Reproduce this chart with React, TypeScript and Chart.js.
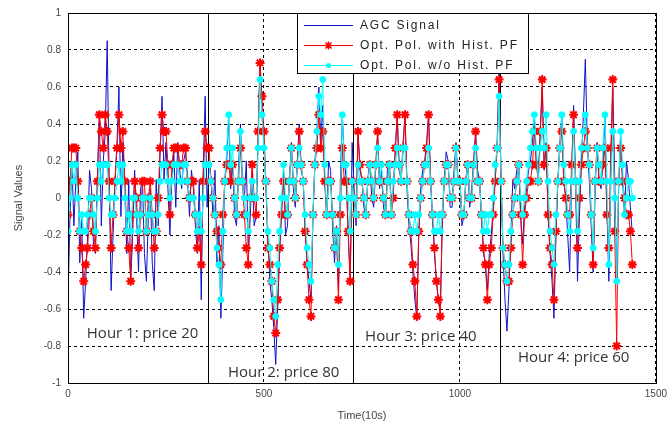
import React, { useEffect, useRef } from 'react';
import { Chart, registerables } from 'chart.js';
Chart.register(...registerables);

// sample times (units of 10 s), one point every 5 samples
const TIME: number[] = Array.from({ length: 289 }, (_, i) => i * 5);

const AGC: number[] = [
  -0.55, -0.1, 0.2, -0.15, 0.1, 0.25, -0.35, -0.1, -0.65, -0.45,
  -0.2, 0.15, 0.05, -0.25, -0.3, 0.1, 0.45, -0.15, 0.2, 0.35,
  0.85, 0.1, -0.5, -0.2, 0.1, 0.3, 0.6, -0.1, 0.3, 0.05,
  -0.3, 0.1, -0.45, -0.2, 0.15, -0.1, -0.4, 0.05, 0.1, -0.3,
  -0.45, -0.1, 0.05, -0.35, -0.5, 0.1, -0.15, 0.25, 0.55, 0.1,
  0.3, 0.05, -0.2, 0.1, 0.25, -0.05, 0.3, 0.15, 0.05, 0.2,
  0.25, 0.1, -0.1, 0.15, 0.05, -0.15, -0.3, 0.1, -0.55, 0.15,
  0.55, -0.05, 0.2, 0.1, -0.1, 0.15, -0.35, -0.15, -0.65, -0.3,
  0.1, 0.2, 0.45, 0.05, 0.2, -0.1, -0.15, 0.15, 0.4, 0.1,
  0.0, 0.2, -0.3, -0.1, 0.15, -0.15, -0.1, 0.3, 0.75, 0.45,
  0.3, 0.05, -0.2, -0.45, -0.55, -0.7, -0.9, -0.6, -0.3, -0.05,
  0.15, -0.2, -0.15, 0.1, 0.3, 0.05, -0.05, 0.2, 0.4, 0.15,
  0.1, -0.15, -0.35, -0.45, -0.55, -0.1, 0.2, 0.35, 0.6, 0.3,
  0.5, 0.1, -0.1, 0.2, 0.15, -0.15, -0.35, -0.15, -0.5, 0.1,
  0.45, 0.2, 0.1, -0.2, -0.45, 0.3, 0.05, -0.15, 0.35, 0.15,
  0.1, -0.05, -0.1, 0.1, 0.2, 0.0, -0.05, 0.15, 0.35, 0.05,
  0.15, -0.05, -0.1, 0.15, 0.2, -0.05, 0.05, 0.25, 0.45, 0.15,
  0.1, 0.3, 0.45, 0.05, -0.15, -0.25, -0.4, -0.55, -0.65, -0.2,
  0.05, 0.15, 0.2, 0.3, 0.45, 0.1, -0.1, -0.3, -0.45, -0.55,
  -0.6, -0.15, 0.1, 0.25, 0.2, -0.05, -0.05, 0.15, 0.3, 0.1,
  0.1, -0.15, -0.1, 0.1, 0.2, -0.05, 0.05, 0.2, 0.35, 0.15,
  0.1, -0.1, -0.3, -0.35, -0.5, -0.3, -0.2, -0.05, 0.1, 0.3,
  0.7, 0.1, -0.3, -0.55, -0.72, -0.5, -0.2, 0.1, 0.05, 0.15,
  0.2, -0.1, -0.25, -0.05, 0.05, 0.15, 0.2, 0.3, 0.45, 0.2,
  0.1, 0.35, 0.6, 0.15, 0.3, -0.1, -0.3, -0.45, -0.65, -0.2,
  0.1, 0.3, 0.45, 0.1, 0.0, -0.2, -0.4, 0.1, 0.5, 0.1,
  -0.45, -0.1, 0.2, 0.45, 0.75, 0.3, 0.1, -0.15, -0.4, 0.05,
  0.3, 0.1, 0.05, 0.2, 0.45, -0.05, -0.45, 0.1, 0.6, 0.1,
  -0.45, 0.05, 0.35, 0.1, -0.1, 0.2, 0.1, -0.05, -0.2,
];

const WITH_HIST: number[] = [
  -0.09, 0.09, 0.27, 0.27, 0.27, 0.09, -0.18, -0.27, -0.45, -0.36,
  -0.27, -0.09, 0.0, -0.18, -0.27, 0.09, 0.45, 0.36, 0.27, 0.45,
  0.36, 0.09, -0.27, -0.09, 0.09, 0.27, 0.45, 0.27, 0.36, 0.09,
  -0.18, -0.27, -0.45, -0.09, 0.09, 0.0, -0.27, -0.09, 0.09, 0.09,
  -0.18, 0.0, 0.09, -0.09, -0.27, -0.18, 0.0, 0.27, 0.45, 0.36,
  0.36, 0.18, -0.09, 0.18, 0.27, 0.27, 0.27, 0.18, 0.18, 0.27,
  0.27, 0.09, 0.0, 0.09, 0.09, -0.09, -0.27, -0.18, -0.36, 0.09,
  0.36, 0.27, 0.27, 0.09, 0.0, -0.09, -0.18, -0.27, -0.36, -0.09,
  0.09, 0.18, 0.18, 0.09, 0.18, 0.0, -0.09, 0.09, 0.27, 0.09,
  -0.09, -0.27, -0.36, 0.0, 0.18, 0.0, -0.09, 0.36, 0.73, 0.55,
  0.36, 0.09, -0.27, -0.36, -0.45, -0.64, -0.73, -0.55, -0.27, -0.09,
  0.09, -0.09, -0.09, 0.09, 0.27, 0.09, 0.0, 0.18, 0.36, 0.18,
  0.09, -0.18, -0.36, -0.55, -0.64, -0.09, 0.18, 0.27, 0.45, 0.27,
  0.36, 0.09, -0.09, 0.09, 0.09, -0.09, -0.27, -0.18, -0.55, -0.09,
  0.27, 0.09, 0.09, -0.18, -0.45, 0.09, 0.0, -0.09, 0.36, 0.18,
  0.09, 0.0, -0.09, 0.09, 0.18, 0.09, 0.0, 0.18, 0.36, 0.09,
  0.09, 0.0, -0.09, 0.09, 0.18, -0.09, 0.0, 0.27, 0.45, 0.18,
  0.09, 0.27, 0.45, 0.09, -0.09, -0.18, -0.36, -0.45, -0.64, -0.18,
  0.0, 0.09, 0.18, 0.27, 0.45, 0.09, -0.09, -0.27, -0.45, -0.55,
  -0.64, -0.09, 0.09, 0.18, 0.18, 0.0, 0.0, 0.09, 0.27, 0.09,
  0.09, -0.09, -0.09, 0.09, 0.18, 0.0, 0.0, 0.18, 0.36, 0.09,
  0.09, -0.09, -0.27, -0.36, -0.55, -0.36, -0.27, -0.09, 0.09, 0.27,
  0.64, 0.09, -0.27, -0.36, -0.45, -0.45, -0.27, -0.09, 0.0, 0.09,
  0.18, -0.09, -0.36, -0.09, 0.0, 0.09, 0.09, 0.18, 0.36, 0.18,
  0.09, 0.36, 0.64, 0.18, 0.27, -0.09, -0.27, -0.36, -0.55, -0.18,
  0.09, 0.27, 0.36, 0.09, 0.0, -0.09, -0.09, 0.18, 0.45, 0.09,
  -0.27, 0.0, 0.18, 0.27, 0.36, 0.27, 0.18, -0.09, -0.36, 0.09,
  0.27, 0.09, 0.09, 0.18, 0.27, -0.09, -0.27, 0.27, 0.64, -0.18,
  -0.8, 0.09, 0.27, 0.09, 0.0, -0.09, -0.09, -0.18, -0.36,
];

const WITHOUT_HIST: number[] = [
  -0.18, 0.0, 0.18, 0.09, 0.18, 0.0, -0.18, -0.09, -0.18, -0.18,
  -0.09, 0.0, 0.0, -0.09, -0.18, 0.0, 0.18, 0.09, 0.18, 0.18,
  0.18, 0.0, -0.09, -0.09, 0.0, 0.09, 0.18, 0.09, 0.18, 0.0,
  -0.18, -0.09, -0.18, 0.0, 0.0, -0.09, -0.18, -0.09, 0.0, 0.0,
  -0.18, -0.09, 0.0, -0.09, -0.18, -0.18, -0.09, 0.09, 0.18, 0.18,
  0.18, 0.09, 0.0, 0.09, 0.18, 0.18, 0.18, 0.09, 0.09, 0.18,
  0.18, 0.09, 0.0, 0.0, 0.0, -0.09, -0.18, -0.09, -0.18, 0.0,
  0.18, 0.18, 0.18, 0.09, 0.0, -0.09, -0.27, -0.36, -0.55, -0.18,
  0.09, 0.27, 0.45, 0.18, 0.27, 0.0, -0.09, 0.09, 0.36, 0.09,
  0.0, -0.09, -0.18, 0.0, 0.09, 0.0, 0.0, 0.27, 0.64, 0.45,
  0.27, 0.09, -0.18, -0.27, -0.45, -0.55, -0.64, -0.36, -0.18, 0.0,
  0.18, 0.0, -0.09, 0.09, 0.27, 0.09, 0.0, 0.18, 0.27, 0.18,
  0.09, -0.09, -0.27, -0.36, -0.45, -0.09, 0.18, 0.36, 0.55, 0.45,
  0.64, 0.18, -0.09, 0.09, 0.09, -0.09, -0.27, -0.18, -0.36, 0.0,
  0.45, 0.18, 0.18, 0.0, -0.18, 0.09, 0.0, -0.09, 0.18, 0.09,
  0.09, 0.0, -0.09, 0.09, 0.18, 0.09, 0.0, 0.18, 0.27, 0.09,
  0.18, 0.0, -0.09, 0.09, 0.18, -0.09, 0.09, 0.18, 0.27, 0.18,
  0.09, 0.27, 0.27, 0.09, -0.09, -0.18, -0.18, -0.09, -0.18, -0.09,
  0.0, 0.09, 0.18, 0.18, 0.27, 0.09, -0.09, -0.18, -0.18, -0.09,
  -0.18, -0.09, 0.09, 0.18, 0.18, 0.0, 0.0, 0.09, 0.27, 0.09,
  0.09, -0.09, -0.09, 0.09, 0.18, 0.0, 0.0, 0.18, 0.27, 0.09,
  0.09, -0.09, -0.18, -0.09, -0.18, -0.09, -0.09, 0.0, 0.18, 0.27,
  0.55, 0.09, -0.27, -0.36, -0.45, -0.36, -0.18, -0.09, 0.0, 0.09,
  0.18, 0.0, -0.09, 0.0, 0.09, 0.18, 0.27, 0.36, 0.45, 0.27,
  0.09, 0.27, 0.36, 0.27, 0.45, 0.09, -0.18, -0.27, -0.36, -0.09,
  0.09, 0.27, 0.45, 0.18, 0.09, -0.09, -0.18, 0.09, 0.36, 0.09,
  -0.18, 0.09, 0.27, 0.36, 0.45, 0.27, 0.18, -0.09, -0.27, 0.09,
  0.27, 0.18, 0.09, 0.27, 0.45, 0.09, -0.36, 0.09, 0.36, 0.0,
  -0.45, 0.09, 0.36, 0.18, -0.09, 0.0, 0.09, 0.09, 0.0,
];

const X_TICKS: number[] = [0, 500, 1000, 1500];
const HOUR_BOUNDS: number[] = [357, 728, 1102];
const HOUR_LABELS = [
  { text: 'Hour 1: price 20', x: 48, y: -0.736 },
  { text: 'Hour 2: price 80', x: 408, y: -0.943 },
  { text: 'Hour 3: price 40', x: 758, y: -0.752 },
  { text: 'Hour 4: price 60', x: 1148, y: -0.864 },
];
const SERIES_NAMES = ['AGC Signal', 'Opt. Pol. with Hist. PF', 'Opt. Pol. w/o Hist. PF'];
const BLUE = '#1010c8';
const RED = '#ff0000';
const CYAN = '#00ffff';

const overlay = {
  id: 'overlay',
  beforeDatasetsDraw(chart: any) {
    const { ctx, chartArea, scales } = chart;
    ctx.save();
    ctx.strokeStyle = '#000';
    ctx.lineWidth = 1;
    for (const v of HOUR_BOUNDS) {
      const px = Math.round(scales.x.getPixelForValue(v)) + 0.5;
      ctx.beginPath();
      ctx.moveTo(px, chartArea.top);
      ctx.lineTo(px, chartArea.bottom);
      ctx.stroke();
    }
    ctx.restore();
  },
  afterDraw(chart: any) {
    const { ctx, chartArea, scales } = chart;
    ctx.save();
    // annotations
    ctx.fillStyle = '#333';
    ctx.font = '15px "Open Sans", sans-serif';
    ctx.textBaseline = 'middle';
    ctx.textAlign = 'left';
    for (const h of HOUR_LABELS) {
      ctx.fillText(h.text, scales.x.getPixelForValue(h.x), scales.y.getPixelForValue(h.y));
    }
    // box
    ctx.strokeStyle = '#000';
    ctx.lineWidth = 1;
    ctx.strokeRect(
      Math.round(chartArea.left) + 0.5,
      Math.round(chartArea.top) + 0.5,
      Math.round(chartArea.right - chartArea.left),
      Math.round(chartArea.bottom - chartArea.top)
    );
    // legend
    const lx = 297, ly = Math.round(chartArea.top), lw = 231, lh = 60;
    ctx.fillStyle = '#fff';
    ctx.fillRect(lx, ly, lw, lh);
    ctx.strokeRect(lx + 0.5, ly + 0.5, lw, lh);
    const rows = [ly + 12, ly + 32, ly + 52];
    const colors = [BLUE, RED, CYAN];
    ctx.font = '12px Arial, "Liberation Sans", sans-serif';
    (ctx as any).letterSpacing = '1.8px';
    for (let i = 0; i < 3; i++) {
      const y = rows[i] + 0.5;
      ctx.strokeStyle = colors[i];
      ctx.lineWidth = 1;
      ctx.beginPath();
      ctx.moveTo(304, y);
      ctx.lineTo(353, y);
      ctx.stroke();
      if (i === 1) {
        ctx.lineWidth = 1.5;
        ctx.beginPath();
        ctx.moveTo(328.5, y - 4); ctx.lineTo(328.5, y + 4);
        ctx.moveTo(324.5, y); ctx.lineTo(332.5, y);
        ctx.moveTo(325.5, y - 3); ctx.lineTo(331.5, y + 3);
        ctx.moveTo(331.5, y - 3); ctx.lineTo(325.5, y + 3);
        ctx.stroke();
      }
      if (i === 2) {
        ctx.fillStyle = CYAN;
        ctx.beginPath();
        ctx.arc(328.5, y, 2.5, 0, Math.PI * 2);
        ctx.fill();
      }
      ctx.fillStyle = '#222';
      ctx.textBaseline = 'middle';
      ctx.fillText(SERIES_NAMES[i], 360, y);
    }
    ctx.restore();
  },
};

export default function App() {
  const ref = useRef<HTMLCanvasElement | null>(null);
  useEffect(() => {
    if (!ref.current) return;
    const mk = (vals: number[]) => TIME.map((t, i) => ({ x: t, y: vals[i] }));
    const chart = new Chart(ref.current, {
      type: 'line',
      data: {
        datasets: [
          {
            label: SERIES_NAMES[0],
            data: mk(AGC),
            borderColor: BLUE,
            borderWidth: 1,
            pointRadius: 0,
            order: 2,
          },
          {
            label: SERIES_NAMES[1],
            data: mk(WITH_HIST),
            borderColor: RED,
            borderWidth: 1,
            pointStyle: 'star',
            pointRadius: 4.5,
            pointBorderColor: RED,
            pointBorderWidth: 2,
            order: 1,
          },
          {
            label: SERIES_NAMES[2],
            data: mk(WITHOUT_HIST),
            borderColor: CYAN,
            borderWidth: 1,
            pointStyle: 'circle',
            pointRadius: 3,
            pointBackgroundColor: CYAN,
            pointBorderColor: CYAN,
            order: 0,
          },
        ],
      },
      options: {
        animation: false,
        responsive: false,
        layout: { padding: { top: 7, right: 16, left: 0, bottom: 0 } },
        plugins: { legend: { display: false }, tooltip: { enabled: false } },
        elements: { line: { tension: 0 } },
        scales: {
          x: {
            type: 'linear',
            min: 0,
            max: 1500,
            afterFit: (s: any) => { s.height = 40; },
            afterBuildTicks: (s: any) => { s.ticks = X_TICKS.map((v) => ({ value: v })); },
            ticks: {
              color: '#444',
              font: { size: 10, family: 'Arial, "Liberation Sans", sans-serif' },
              padding: 5,
              callback: (v: any) => String(v),
            },
            grid: { color: '#000', lineWidth: 1, drawTicks: false },
            border: { display: false, dash: [3, 3] },
            title: {
              display: true,
              text: 'Time(10s)',
              color: '#444',
              font: { size: 11, family: 'Arial, "Liberation Sans", sans-serif' },
              padding: { top: 3, bottom: 0 },
            },
          },
          y: {
            type: 'linear',
            min: -1,
            max: 1,
            afterFit: (s: any) => { s.width = 68; },
            ticks: {
              stepSize: 0.2,
              color: '#444',
              font: { size: 10, family: 'Arial, "Liberation Sans", sans-serif' },
              padding: 7,
              callback: (v: any) => String(parseFloat(Number(v).toFixed(1))),
            },
            grid: { color: '#000', lineWidth: 1, drawTicks: false },
            border: { display: false, dash: [3, 3] },
            title: {
              display: true,
              text: 'Signal Values',
              color: '#444',
              font: { size: 11, family: 'Arial, "Liberation Sans", sans-serif' },
              padding: { top: 12, bottom: 0 },
            },
          },
        },
      },
      plugins: [overlay],
    });
    return () => chart.destroy();
  }, []);
  return (
    <div style={{ position: 'fixed', left: 0, top: 0, width: 672, height: 423, background: '#fff' }}>
      <canvas ref={ref} width={672} height={423} style={{ width: 672, height: 423 }} />
    </div>
  );
}
